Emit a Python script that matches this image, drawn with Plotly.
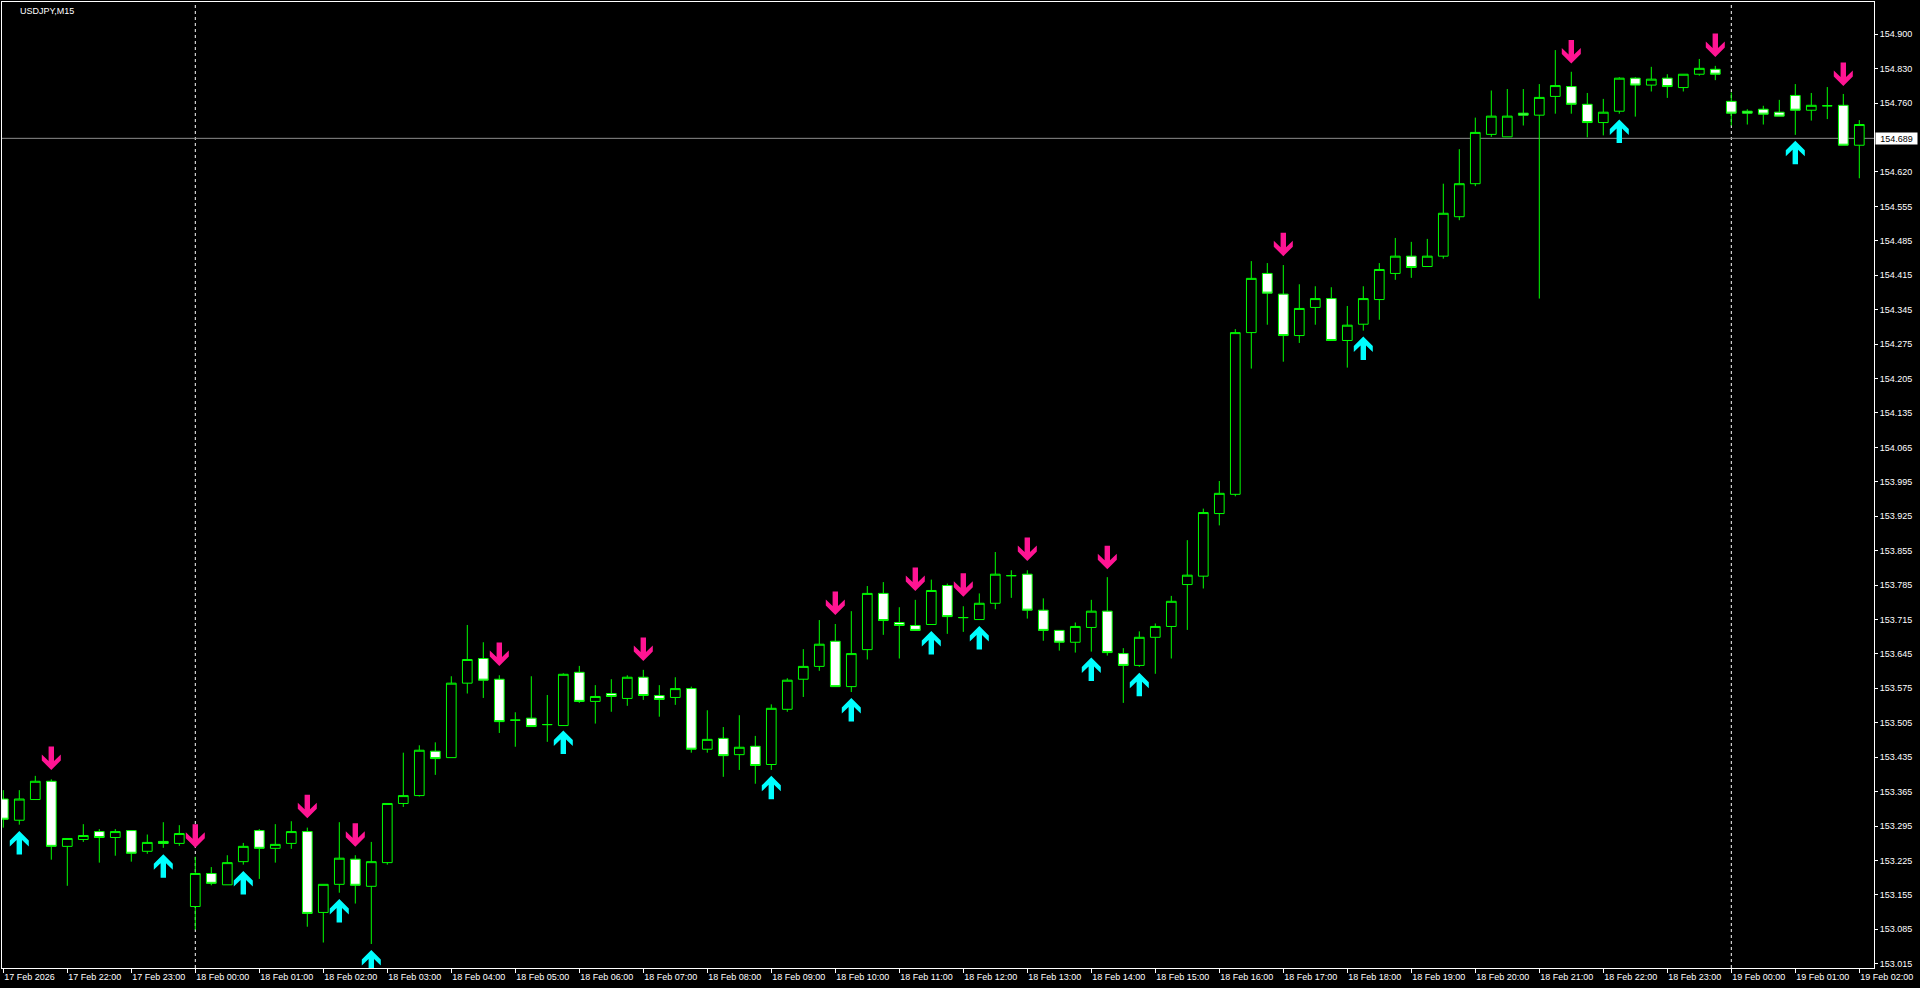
import numpy as np
import plotly.graph_objects as go

# ---------------- data ----------------
symbol_title = "USDJPY,M15"

x_tick_labels = [
    "17 Feb 2026", "17 Feb 22:00", "17 Feb 23:00",
    "18 Feb 00:00", "18 Feb 01:00", "18 Feb 02:00", "18 Feb 03:00", "18 Feb 04:00",
    "18 Feb 05:00", "18 Feb 06:00", "18 Feb 07:00", "18 Feb 08:00", "18 Feb 09:00",
    "18 Feb 10:00", "18 Feb 11:00", "18 Feb 12:00", "18 Feb 13:00", "18 Feb 14:00",
    "18 Feb 15:00", "18 Feb 16:00", "18 Feb 17:00", "18 Feb 18:00", "18 Feb 19:00",
    "18 Feb 20:00", "18 Feb 21:00", "18 Feb 22:00", "18 Feb 23:00",
    "19 Feb 00:00", "19 Feb 01:00", "19 Feb 02:00",
]
bars_per_label = 4  # M15 bars per hour

y_tick_labels = [
    "154.900", "154.830", "154.760", "154.690", "154.620", "154.555", "154.485",
    "154.415", "154.345", "154.275", "154.205", "154.135", "154.065", "153.995",
    "153.925", "153.855", "153.785", "153.715", "153.645", "153.575", "153.505",
    "153.435", "153.365", "153.295", "153.225", "153.155", "153.085", "153.015",
]

open_ = [
    153.349, 153.306, 153.348, 153.385, 153.253, 153.267, 153.283, 153.271, 153.285, 153.243,
    153.263, 153.259, 153.131, 153.198, 153.175, 153.222, 153.285, 153.249, 153.259, 153.283,
    153.119, 153.176, 153.227, 153.172, 153.220, 153.340, 153.356, 153.446, 153.433, 153.584,
    153.634, 153.592, 153.509, 153.513, 153.500, 153.498, 153.606, 153.547, 153.563, 153.553,
    153.596, 153.559, 153.555, 153.573, 153.450, 153.472, 153.439, 153.456, 153.419, 153.531,
    153.592, 153.618, 153.669, 153.577, 153.652, 153.766, 153.707, 153.701, 153.703, 153.782,
    153.717, 153.713, 153.746, 153.802, 153.805, 153.732, 153.691, 153.667, 153.697, 153.730,
    153.644, 153.620, 153.677, 153.699, 153.784, 153.801, 153.928, 153.967, 154.295, 154.415,
    154.373, 154.289, 154.346, 154.364, 154.279, 154.312, 154.362, 154.415, 154.450, 154.429,
    154.450, 154.530, 154.597, 154.697, 154.692, 154.740, 154.736, 154.774, 154.794, 154.758,
    154.721, 154.744, 154.811, 154.797, 154.811, 154.792, 154.819, 154.829, 154.764, 154.744,
    154.748, 154.742, 154.776, 154.746, 154.755, 154.756, 154.675,
]
high = [
    153.367, 153.367, 153.396, 153.389, 153.269, 153.298, 153.288, 153.288, 153.285, 153.277,
    153.302, 153.296, 153.232, 153.211, 153.235, 153.260, 153.288, 153.298, 153.304, 153.291,
    153.176, 153.302, 153.235, 153.262, 153.340, 153.443, 153.458, 153.464, 153.598, 153.702,
    153.667, 153.600, 153.525, 153.598, 153.560, 153.604, 153.619, 153.580, 153.592, 153.600,
    153.611, 153.580, 153.596, 153.577, 153.529, 153.495, 153.519, 153.477, 153.541, 153.594,
    153.653, 153.712, 153.704, 153.730, 153.781, 153.789, 153.738, 153.753, 153.794, 153.786,
    153.740, 153.766, 153.850, 153.813, 153.813, 153.756, 153.691, 153.707, 153.753, 153.799,
    153.655, 153.689, 153.705, 153.761, 153.874, 153.938, 153.994, 154.302, 154.440, 154.436,
    154.432, 154.393, 154.389, 154.387, 154.349, 154.389, 154.436, 154.487, 154.479, 154.485,
    154.597, 154.667, 154.731, 154.786, 154.789, 154.789, 154.799, 154.868, 154.824, 154.781,
    154.769, 154.813, 154.813, 154.834, 154.819, 154.819, 154.850, 154.836, 154.782, 154.748,
    154.755, 154.767, 154.799, 154.781, 154.793, 154.779, 154.726,
]
low = [
    153.291, 153.297, 153.347, 153.226, 153.173, 153.262, 153.220, 153.234, 153.222, 153.238,
    153.250, 153.254, 153.084, 153.174, 153.175, 153.216, 153.187, 153.220, 153.248, 153.090,
    153.058, 153.159, 153.137, 153.055, 153.216, 153.333, 153.354, 153.398, 153.433, 153.563,
    153.554, 153.483, 153.455, 153.496, 153.465, 153.498, 153.544, 153.502, 153.526, 153.538,
    153.550, 153.516, 153.540, 153.443, 153.443, 153.394, 153.408, 153.380, 153.408, 153.526,
    153.556, 153.609, 153.577, 153.566, 153.632, 153.682, 153.634, 153.691, 153.703, 153.684,
    153.688, 153.713, 153.734, 153.757, 153.715, 153.670, 153.650, 153.646, 153.648, 153.640,
    153.544, 153.617, 153.603, 153.634, 153.692, 153.776, 153.904, 153.963, 154.222, 154.311,
    154.236, 154.274, 154.311, 154.279, 154.224, 154.299, 154.321, 154.402, 154.406, 154.429,
    154.445, 154.523, 154.592, 154.692, 154.692, 154.715, 154.364, 154.739, 154.739, 154.691,
    154.695, 154.739, 154.733, 154.784, 154.771, 154.784, 154.816, 154.807, 154.715, 154.717,
    154.717, 154.734, 154.696, 154.725, 154.728, 154.675, 154.608,
]
close = [
    153.308, 153.349, 153.385, 153.253, 153.269, 153.275, 153.271, 153.283, 153.239, 153.261,
    153.259, 153.279, 153.198, 153.178, 153.220, 153.253, 153.249, 153.257, 153.283, 153.117,
    153.176, 153.229, 153.174, 153.222, 153.340, 153.356, 153.448, 153.431, 153.584, 153.632,
    153.590, 153.506, 153.509, 153.496, 153.500, 153.602, 153.547, 153.557, 153.557, 153.596,
    153.559, 153.551, 153.573, 153.450, 153.470, 153.437, 153.454, 153.417, 153.533, 153.590,
    153.618, 153.663, 153.577, 153.644, 153.766, 153.711, 153.701, 153.691, 153.772, 153.719,
    153.717, 153.746, 153.805, 153.802, 153.732, 153.691, 153.667, 153.699, 153.730, 153.646,
    153.620, 153.677, 153.699, 153.750, 153.803, 153.930, 153.969, 154.295, 154.405, 154.375,
    154.289, 154.344, 154.364, 154.279, 154.310, 154.364, 154.423, 154.450, 154.427, 154.450,
    154.537, 154.597, 154.701, 154.734, 154.734, 154.736, 154.772, 154.796, 154.758, 154.721,
    154.742, 154.811, 154.797, 154.809, 154.794, 154.819, 154.831, 154.819, 154.740, 154.740,
    154.738, 154.734, 154.746, 154.756, 154.755, 154.675, 154.717,
]

up_arrow_bar = [1, 10, 15, 21, 23, 35, 48, 53, 58, 61, 68, 71, 85, 101, 112]
up_arrow_price = [153.284, 153.237, 153.203, 153.146, 153.043, 153.488, 153.396, 153.554,
                  153.690, 153.700, 153.636, 153.605, 154.287, 154.727, 154.684]
down_arrow_bar = [3, 12, 19, 22, 31, 40, 52, 57, 60, 64, 69, 80, 98, 107, 115]
down_arrow_price = [153.408, 153.250, 153.310, 153.252, 153.619, 153.629, 153.722, 153.771,
                    153.759, 153.832, 153.815, 154.450, 154.841, 154.854, 154.795]

last_price = 154.689

# ---------------- style ----------------
W, H = 1920, 988
M_L, M_R, M_T, M_B = 2, 46, 2, 20
X_RANGE = [-0.08125, 116.91875]
Y_RANGE = [153.0063, 154.9655]
GREEN = "#00FF00"
PINK = "#FF1493"
CYAN = "#00FFFF"
FONT = "'Liberation Sans', Arial, sans-serif"
FSIZE = 9

plot_w = W - M_L - M_R
plot_h = H - M_T - M_B
px_per_x = plot_w / (X_RANGE[1] - X_RANGE[0])
px_per_y = plot_h / (Y_RANGE[1] - Y_RANGE[0])

# arrow glyph outline in pixels, tip at (0,0), dy measured away from the tip
ARROW = [(0, 0), (-9.5, 9.5), (-9.5, 15.5), (-2.7, 9.0), (-2.7, 23.5),
         (2.7, 23.5), (2.7, 9.0), (9.5, 15.5), (9.5, 9.5), (0, 0)]


def arrow_paths(bars, prices, direction):
    xs, ys = [], []
    for b, p in zip(bars, prices):
        for dx, dy in ARROW:
            xs.append(b + dx / px_per_x)
            ys.append(p - direction * dy / px_per_y)
        xs.append(None)
        ys.append(None)
    return xs, ys


n = len(open_)
xidx = list(range(n))

fig = go.Figure()
fig.add_trace(go.Candlestick(
    x=xidx, open=open_, high=high, low=low, close=close,
    increasing=dict(fillcolor="black", line=dict(color=GREEN, width=1)),
    decreasing=dict(fillcolor="white", line=dict(color=GREEN, width=1)),
    whiskerwidth=0, hoverinfo="skip", showlegend=False,
))

ux, uy = arrow_paths(up_arrow_bar, up_arrow_price, +1)
dx_, dy_ = arrow_paths(down_arrow_bar, down_arrow_price, -1)
fig.add_trace(go.Scatter(x=ux, y=uy, mode="lines", fill="toself", fillcolor=CYAN,
                         line=dict(width=0, color=CYAN), hoverinfo="skip", showlegend=False))
fig.add_trace(go.Scatter(x=dx_, y=dy_, mode="lines", fill="toself", fillcolor=PINK,
                         line=dict(width=0, color=PINK), hoverinfo="skip", showlegend=False))

# axes ticks
x_tickvals = [i * bars_per_label for i in range(len(x_tick_labels))]
y_positions = np.linspace(float(y_tick_labels[0]), float(y_tick_labels[-1]), len(y_tick_labels))
step = abs(y_positions[1] - y_positions[0])
y_tv, y_tt = [], []
for v, t in zip(y_positions, y_tick_labels):
    if abs(v - last_price) < step / 2:
        continue  # hidden by the price label
    y_tv.append(v)
    y_tt.append(t)

# day separators
shapes = []
for v, t in zip(x_tickvals, x_tick_labels):
    if t.endswith("00:00"):
        shapes.append(dict(type="line", xref="x", yref="paper", x0=v, x1=v, y0=0, y1=1,
                           line=dict(color="white", width=1, dash="3px,3px"), layer="below"))
shapes.append(dict(type="line", xref="paper", yref="y", x0=0, x1=1, y0=last_price, y1=last_price,
                   line=dict(color="#8C8C8C", width=1), layer="below"))

fig.update_layout(
    width=W, height=H,
    margin=dict(l=M_L, r=M_R, t=M_T, b=M_B, pad=0),
    paper_bgcolor="black", plot_bgcolor="black",
    boxgap=0.394, boxgroupgap=0,
    hovermode=False, showlegend=False,
    font=dict(family=FONT, size=FSIZE, color="white"),
    shapes=shapes,
    xaxis=dict(range=X_RANGE, showgrid=False, zeroline=False, showline=True, linecolor="white",
               linewidth=1, mirror=True, ticks="outside", ticklen=4, tickcolor="white", tickwidth=1,
               tickvals=x_tickvals, ticktext=x_tick_labels, tickangle=0,
               ticklabelposition="outside right", rangeslider=dict(visible=False), fixedrange=True,
               tickfont=dict(family=FONT, size=FSIZE, color="white")),
    yaxis=dict(range=Y_RANGE, side="right", showgrid=False, zeroline=False, showline=True,
               linecolor="white", linewidth=1, mirror=True, ticks="outside", ticklen=3,
               tickcolor="white", tickwidth=1, tickvals=y_tv, ticktext=y_tt, fixedrange=True,
               tickfont=dict(family=FONT, size=FSIZE, color="white")),
    annotations=[
        dict(xref="paper", yref="paper", x=(18 - M_L) / plot_w, y=1 - (11 - M_T) / plot_h,
             xanchor="left", yanchor="middle", text=symbol_title, showarrow=False,
             font=dict(family=FONT, size=FSIZE, color="white")),
        dict(xref="paper", yref="y", x=1, y=last_price, xanchor="left", yanchor="middle",
             xshift=1, text=f"{last_price:.3f}", showarrow=False, bgcolor="white",
             font=dict(family=FONT, size=FSIZE, color="black"), borderpad=1, width=39, height=9),
    ],
)

fig.write_html(
    "out.html",
    config=dict(displayModeBar=False),
    post_script="document.body.style.margin='0';document.body.style.overflow='hidden';",
)
